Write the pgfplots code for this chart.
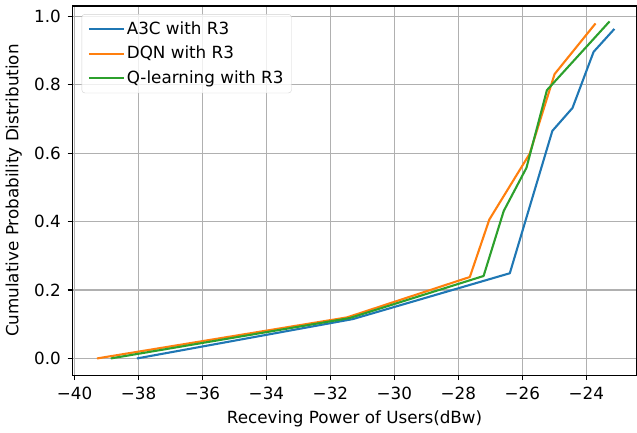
\documentclass[border=0pt]{standalone}
\usepackage{fontspec}
\setmainfont{DejaVu Sans}
\usepackage{pgfplots}
\pgfplotsset{compat=1.18}
\definecolor{tabblue}{HTML}{1F77B4}
\definecolor{taborange}{HTML}{FF7F0E}
\definecolor{tabgreen}{HTML}{2CA02C}
\definecolor{gridgray}{HTML}{B0B0B0}
\begin{document}
\fontsize{16.8bp}{20bp}\selectfont
\begin{tikzpicture}
\begin{axis}[
  scale only axis,
  width=565bp, height=370bp,
  xmin=-40.06, xmax=-22.43,
  ymin=-0.049, ymax=1.03,
  xtick={-40,-38,-36,-34,-32,-30,-28,-26,-24},
  xticklabels={−40,−38,−36,−34,−32,−30,−28,−26,−24},
  ytick={0,0.2,0.4,0.6,0.8,1.0},
  yticklabels={0.0,0.2,0.4,0.6,0.8,1.0},
  xtick pos=bottom, ytick pos=left,
  tick align=outside,
  major tick length=5bp,
  tick style={black, line width=1.1bp},
  axis line style={black, line width=1.1bp},
  grid=major,
  major grid style={gridgray, line width=1.1bp},
  xlabel={Receving Power of Users(dBw)},
  ylabel={Cumulative Probability Distribution},
  xticklabel style={yshift=-1bp},
  yticklabel style={xshift=-1bp},
  xlabel style={yshift=0bp},
  ylabel style={yshift=1bp},
  tick label style={font=\fontsize{16.8bp}{20bp}\selectfont},
  label style={font=\fontsize{16.8bp}{20bp}\selectfont},
  legend cell align=left,
  legend style={at={(0.016,0.978)}, anchor=north west,
    draw=gray!35, rounded corners=3bp, fill=white, fill opacity=0.8, text opacity=1,
    font=\fontsize{16.8bp}{20bp}\selectfont, inner xsep=6bp, inner ysep=5bp,
    row sep=5.5bp},
  legend image code/.code={\draw[#1] (0bp,0bp) -- (35bp,0bp);},
  every axis plot/.append style={line width=2.1bp, line join=round},
]
\addplot[tabblue] coordinates {(-38.05,0) (-31.3,0.115) (-26.39,0.249) (-25.06,0.665) (-24.43,0.732) (-23.77,0.896) (-23.12,0.963)};
\addlegendentry{A3C with R3}
\addplot[taborange] coordinates {(-39.3,0) (-31.48,0.12) (-27.64,0.238) (-27.03,0.406) (-25.77,0.598) (-24.99,0.831) (-23.71,0.979)};
\addlegendentry{DQN with R3}
\addplot[tabgreen] coordinates {(-38.87,0) (-31.4,0.118) (-27.21,0.241) (-26.58,0.431) (-25.87,0.557) (-25.23,0.784) (-23.27,0.985)};
\addlegendentry{Q-learning with R3}
\end{axis}
\path ([yshift=6bp]current axis.north);
\end{tikzpicture}
\end{document}
